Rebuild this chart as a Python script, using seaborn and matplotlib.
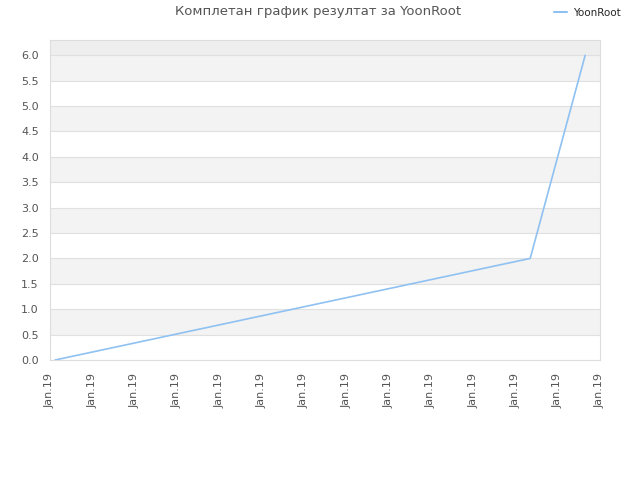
import matplotlib
matplotlib.use("Agg")
import matplotlib.pyplot as plt
import seaborn as sns
import numpy as np
import pandas as pd
from matplotlib.lines import Line2D

# Data
series_name = "YoonRoot"
x_pos = [0.12, 11.35, 12.65]
y_vals = [0.0, 2.0, 6.0]
tick_labels = ["Jan.19"] * 14
title = "Комплетан график резултат за YoonRoot"

sns.set_style("white")
plt.rcParams['font.family'] = ['DejaVu Sans']

fig = plt.figure(figsize=(6.4, 4.8), dpi=100)
ax = fig.add_axes([50/640, 120/480, 550/640, 320/480])

ymax = 6.3
ticks_y = np.arange(0, 6.01, 0.5)
for i, t in enumerate(ticks_y):
    top = min(t + 0.5, ymax)
    if i % 2 == 1:
        ax.axhspan(t, top, color="#f3f3f3", zorder=0, lw=0)
ax.axhspan(6.0, ymax, color="#eeeeee", zorder=0, lw=0)
for t in ticks_y:
    ax.axhline(t, color="#e0e0e0", lw=0.8, zorder=1)

df = pd.DataFrame({"x": x_pos, "y": y_vals, "s": series_name})
sns.lineplot(data=df, x="x", y="y", hue="s", palette=["#8fc1f2"], lw=1.2, ax=ax, legend=False, zorder=3)

ax.set_xlim(0, 13)
ax.set_ylim(0, ymax)
ax.set_xticks(range(len(tick_labels)))
ax.set_xticklabels(tick_labels, rotation=90, fontsize=8, color="#555555")
ax.set_yticks(ticks_y)
ax.set_yticklabels([f"{v:.1f}" for v in ticks_y], fontsize=8, color="#555555")
ax.tick_params(axis="x", length=0, pad=9)
ax.tick_params(axis="y", length=0, pad=8)
ax.set_xlabel("")
ax.set_ylabel("")
for sp in ax.spines.values():
    sp.set_color("#dddddd")
    sp.set_linewidth(0.8)

fig.text(318/640, 1 - 12/480, title, ha="center", va="center", fontsize=9.5, color="#555555")

h = [Line2D([0], [0], color="#8fc1f2", lw=1.5)]
fig.legend(h, [series_name], loc="center right", bbox_to_anchor=(630/640, 1 - 13/480),
           frameon=False, fontsize=7.5, handlelength=1.2, handletextpad=0.6)

fig.savefig("out.png", dpi=100)
